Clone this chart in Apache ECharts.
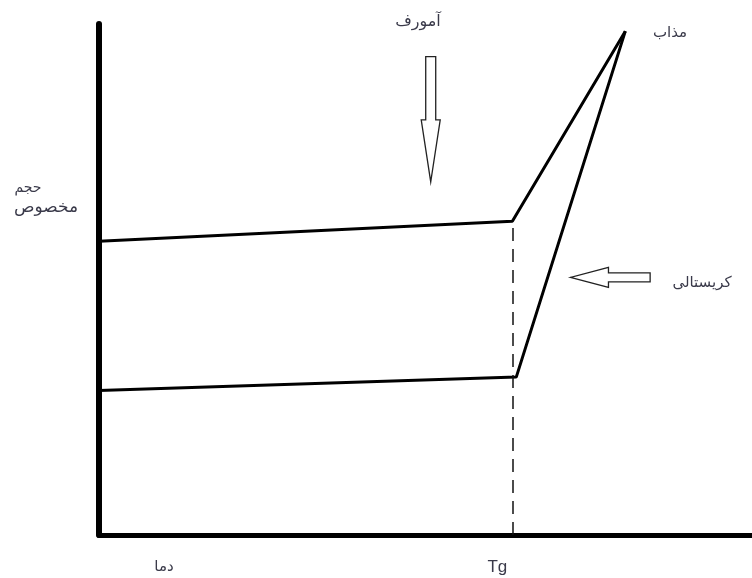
<!DOCTYPE html>
<html>
<head>
<meta charset="utf-8">
<script src="https://cdn.jsdelivr.net/npm/echarts@6/dist/echarts.min.js"></script>
<style>html,body{margin:0;padding:0;background:#fff}#c{width:752px;height:578px}</style>
</head>
<body>
<div id="c"></div>
<script>
// Schematic values (arbitrary units: temperature 0-100, specific volume 0-100)
const amorphousT = [0, 63.3, 80.6];
const amorphousV = [57.5, 61.4, 98.6];
const crystalT = [0, 63.9, 80.6];
const crystalV = [28.3, 30.9, 98.6];
const tgValue = 63.3;
const tgLabel = 'Tg';
const xAxisTitle = 'دما';
const yAxisTitle = ['حجم', 'مخصوص'];
const amorphousLabel = 'آمورف';
const meltLabel = 'مذاب';
const crystalLabel = 'کریستالی';
// arrow annotations (data coords): tip and tail
const amorphousArrow = {tip: [50.8, 69.1], tail: [50.8, 93.6]};
const crystalArrow = {tip: [72.2, 50.4], tail: [84.4, 50.4]};

const chart = echarts.init(document.getElementById('c'), null, {renderer: 'canvas'});
const zip = (a, b) => a.map((v, i) => [v, b[i]]);
const lineStyle = {color: '#000', width: 3};

chart.setOption({
  animation: false,
  grid: {left: 99, right: 0, top: 24, bottom: 43},
  xAxis: {type: 'value', min: 0, max: 100, splitLine: {show: false}, axisTick: {show: false}, axisLabel: {show: false},
    axisLine: {show: true, lineStyle: {color: '#000', width: 5, cap: 'round'}}},
  yAxis: {type: 'value', min: 0, max: 100, splitLine: {show: false}, axisTick: {show: false}, axisLabel: {show: false},
    axisLine: {show: true, lineStyle: {color: '#000', width: 6, cap: 'round'}}},
  series: [
    {type: 'line', data: zip(amorphousT, amorphousV), symbol: 'none', lineStyle: lineStyle, z: 3,
      markLine: {silent: true, symbol: 'none',
        lineStyle: {color: '#111', width: 1.5, type: [13, 8]},
        label: {show: true, position: 'start', formatter: tgLabel, color: '#3a3a4a', fontFamily: 'Arial, Liberation Sans', fontSize: 17, distance: 24, offset: [-15, 0]},
        data: [[{coord: [tgValue, 0]}, {coord: [tgValue, amorphousV[1]]}]]}},
    {type: 'line', data: zip(crystalT, crystalV), symbol: 'none', lineStyle: lineStyle, z: 3}
  ]
});

function arrowPolygon(tip, tail, shaftHalf, headHalf, headLen) {
  const p1 = chart.convertToPixel({gridIndex: 0}, tip);
  const p2 = chart.convertToPixel({gridIndex: 0}, tail);
  const dx = p2[0] - p1[0], dy = p2[1] - p1[1];
  const L = Math.hypot(dx, dy);
  const ux = dx / L, uy = dy / L, nx = -uy, ny = ux;
  const pt = (a, b) => [p1[0] + ux * a + nx * b, p1[1] + uy * a + ny * b];
  return [pt(0, 0), pt(headLen, headHalf), pt(headLen, shaftHalf), pt(L, shaftHalf), pt(L, -shaftHalf), pt(headLen, -shaftHalf), pt(headLen, -headHalf)];
}

const ts = (text, size) => ({text: text, fill: '#3a3a4a', fontFamily: 'DejaVu Sans', fontSize: size || 15, align: 'center', verticalAlign: 'middle'});
chart.setOption({
  graphic: [
    {type: 'polygon', shape: {points: arrowPolygon(amorphousArrow.tip, amorphousArrow.tail, 5, 9.5, 62)}, style: {fill: '#fff', stroke: '#222', lineWidth: 1.3}},
    {type: 'polygon', shape: {points: arrowPolygon(crystalArrow.tip, crystalArrow.tail, 4.5, 10, 38)}, style: {fill: '#fff', stroke: '#222', lineWidth: 1.3}},
    {type: 'text', x: 418, y: 22, style: ts(amorphousLabel, 16)},
    {type: 'text', x: 670, y: 33, style: ts(meltLabel, 15)},
    {type: 'text', x: 702, y: 283, style: ts(crystalLabel, 15)},
    {type: 'text', x: 28, y: 188, style: ts(yAxisTitle[0], 14)},
    {type: 'text', x: 46, y: 208, style: ts(yAxisTitle[1], 17)},
    {type: 'text', x: 164, y: 567, style: ts(xAxisTitle, 15)}
  ]
});
</script>
</body>
</html>
